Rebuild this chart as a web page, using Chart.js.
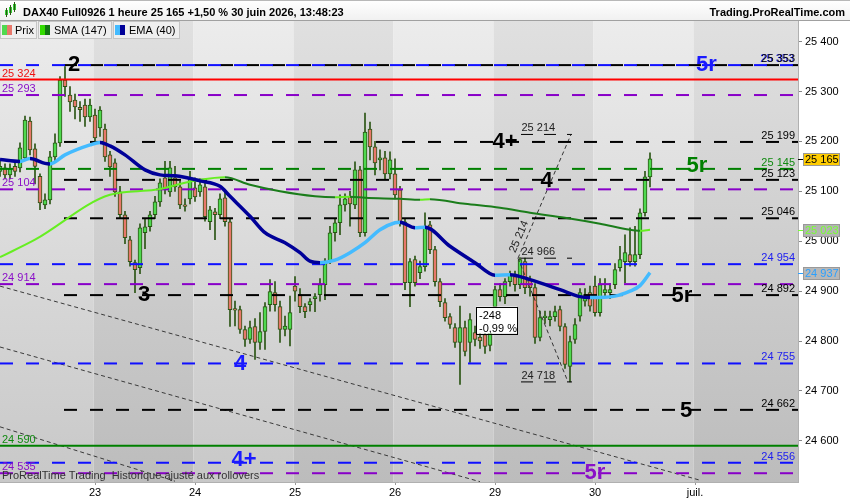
<!DOCTYPE html>
<html>
<head>
<meta charset="utf-8">
<script src="https://cdn.jsdelivr.net/npm/chart.js@4.4.1/dist/chart.umd.min.js"></script>
<style>
  html, body { margin: 0; padding: 0; background: #fff; }
  #wrap { width: 850px; height: 500px; }
</style>
</head>
<body>
<div id="wrap"><canvas id="dax" width="850" height="500"></canvas></div>
<script>
// DAX40 hourly candles (index 0 = first visible bar)
const OPEN = [25140,25147,25133,25150,25147,25167,25241,25185,25130,25073,25083,25169,25197,25323,25293,25283,25267,25273,25249,25253,
  25227,25225,25173,25157,25099,25053,25003,24957,24947,25017,25029,25053,25079,25127,25099,25127,25109,25073,25085,25107,
  25099,25109,25039,25059,25053,25087,25039,24865,24863,24823,24803,24829,24797,24819,24873,24897,24869,24823,24823,24910,
  24893,24869,24873,24885,24893,24913,24960,25017,25037,25073,25089,25073,25143,25017,25225,25189,25163,25167,25135,25135,
  25103,25039,24917,24963,24937,24949,25033,24983,24919,24877,24849,24827,24797,24827,24797,24817,24808,24813,24791,24869,
  24903,24889,24919,24929,24913,24959,24923,24907,24807,24847,24843,24849,24863,24829,24749,24803,24850,24880,24897,24910,
  24857,24897,24897,24913,24947,24959,24973,24959,24973,25057,25129];
const HIGH = [25160,25155,25155,25160,25197,25251,25249,25195,25135,25095,25180,25215,25330,25350,25310,25295,25280,25285,25285,25265,
  25270,25235,25180,25165,25110,25060,25010,24962,25035,25045,25060,25090,25125,25160,25160,25150,25120,25085,25140,25127,
  25125,25120,25070,25066,25095,25100,25045,24880,24870,24830,24840,24845,24857,24877,24923,24919,24880,24850,24890,24929,
  24905,24875,24885,24895,24925,24965,25030,25045,25093,25095,25100,25159,25150,25257,25239,25200,25183,25180,25179,25165,
  25110,25045,24965,24970,24960,25057,25040,24990,24925,24885,24855,24835,24870,24840,24855,24830,24820,24825,24860,24910,
  24915,24925,24940,24940,24967,24966,24930,24915,24860,24860,24860,24870,24870,24835,24810,24845,24905,24905,24910,24930,
  24925,24925,24915,24955,24990,25013,25027,25030,25065,25140,25177];
const LOW = [25130,25125,25125,25130,25139,25163,25173,25115,25063,25065,25075,25160,25190,25290,25260,25245,25240,25230,25240,25195,
  25210,25160,25130,25090,25045,24995,24950,24897,24935,24985,25020,25045,25070,25095,25090,25100,25065,25060,25075,25080,
  25090,25040,25023,25003,25045,25030,24829,24830,24815,24789,24795,24763,24783,24783,24860,24860,24797,24810,24790,24880,
  24857,24847,24860,24859,24880,24883,24955,25000,25013,25060,25030,25065,25009,25010,25163,25133,25143,25125,25125,25085,
  25030,24903,24869,24910,24925,24940,24975,24910,24869,24840,24825,24787,24713,24770,24757,24790,24785,24775,24780,24850,
  24880,24875,24910,24900,24905,24895,24890,24795,24800,24835,24830,24840,24820,24745,24718,24795,24840,24870,24860,24850,
  24850,24890,24885,24905,24940,24917,24950,24950,24965,25050,25109];
const CLOSE = [25150,25133,25145,25140,25187,25243,25183,25150,25077,25083,25169,25197,25323,25310,25279,25269,25265,25249,25273,25207,
  25263,25169,25149,25099,25053,25007,24959,24943,25027,25029,25053,25079,25117,25107,25147,25109,25073,25070,25127,25089,
  25113,25049,25063,25053,25085,25039,24863,24862,24823,24803,24827,24797,24819,24869,24899,24873,24823,24830,24857,24900,
  24869,24859,24879,24889,24913,24960,25017,25037,25073,25085,25075,25143,25017,25219,25189,25157,25167,25135,25163,25093,
  25039,24917,24959,24917,24949,25029,24983,24919,24879,24847,24833,24797,24827,24779,24843,24803,24800,24789,24829,24903,
  24889,24919,24933,24913,24963,24907,24907,24807,24847,24850,24849,24859,24829,24753,24799,24833,24897,24893,24870,24857,
  24913,24903,24903,24943,24963,24977,24959,24973,25057,25129,25165];

// SMA (147) and EMA (40), sampled at the bars where they were read
const SMA_IDX = [0, 7, 22, 31, 37, 40, 45, 50, 56, 63, 67, 70, 73, 80, 84, 86, 93, 100, 106, 113, 120, 126, 128, 130];
const SMA_VAL = [24968, 25003, 25093, 25103, 25117, 25123, 25128, 25113, 25100, 25090, 25088, 25089, 25087, 25085, 25083, 25084,
  25075, 25067, 25057, 25047, 25035, 25023, 25021, 25023];
const EMA_IDX = [0, 4, 6, 9, 10, 13, 18, 20, 22, 25, 29, 32, 35, 40, 44, 46, 50, 53, 57, 60, 62, 64, 67, 70, 73, 76, 79, 80,
  83, 85, 90, 95, 99, 102, 106, 112, 116, 118, 123, 126, 128, 130];
const EMA_VAL = [25164, 25160, 25166, 25156, 25155, 25173, 25193, 25198, 25191, 25173, 25143, 25133, 25131, 25121, 25110, 25090,
  25050, 25017, 24997, 24977, 24960, 24957, 24962, 24977, 24997, 25023, 25037, 25038, 25027, 25028, 24990, 24957, 24932, 24933,
  24923, 24903, 24889, 24887, 24890, 24900, 24911, 24937];

// horizontal levels
const LEVEL_PRICE = [25353, 25353, 25324, 25293, 25199, 25145, 25123, 25104, 25046, 24954, 24914, 24892, 24755, 24662, 24590, 24556, 24535];
const LEVEL_KIND = ['blue', 'black', 'red', 'purple', 'black', 'green', 'black', 'purple', 'black', 'blue', 'purple', 'black',
  'blue', 'black', 'greenSolid', 'blue', 'purple'];

// thin dashed channel lines: [start bar, start price, end bar, end price]
const TREND_LINES = [
  [0, 24910, 140, 24521],
  [0, 24788, 96, 24518],
  [0, 24628, 35, 24519]
];

// measurement object: start point, projected top, low
const MEASURE_IDX = [103.6, 114.2, 113.6];
const MEASURE_VAL = [24966, 25214, 24718];

// Elliott wave counts
const WAVE_TEXT = ['2', '3', '4', '4+', '4+', '4', '5r', '5r', '5r', '5', '5r'];
const WAVE_IDX = [14.8, 28.8, 48, 48.8, 101, 109.3, 139.4, 136.4, 141.3, 137.2, 119];
const WAVE_VAL = [25356, 24894, 24756, 24563, 25200, 25123, 25153, 24892, 25356, 24662, 24538];
const WAVE_KIND = ['black', 'black', 'blue', 'blue', 'black', 'black', 'green', 'black', 'blue', 'black', 'purple'];

const DAY_START = [19, 39, 59, 79, 99, 119, 139];
const DAY_LABELS = ['23', '24', '25', '26', '29', '30', 'juil.'];
const Y_TICKS = [24600, 24700, 24800, 24900, 25000, 25100, 25200, 25300, 25400];

// axis tags on the right
const TAG_VAL = [25165, 25023, 24937];

// ---- styles ----
const FONT = '"Liberation Sans", Arial, sans-serif';
const UP = '#4fd94f', DOWN = '#e8786b', WICK = '#2b5514';
const X_MAX = 159.6, Y_MIN = 24517.4, Y_MAX = 25443.4;

const KIND = {
  black:      { line: '#000000', text: '#000000', dash: [13, 13], from: 12.8, side: 'right' },
  blue:       { line: '#1010ff', text: '#2020f0', dash: [13, 13], from: 0, side: 'right' },
  purple:     { line: '#8800c8', text: '#8a10c8', dash: [13, 13], from: 0, side: 'left' },
  red:        { line: '#ff0000', text: '#ee1010', dash: [], from: 0, side: 'left' },
  green:      { line: '#008000', text: '#108a10', dash: [13, 13], from: 0, side: 'right' },
  greenSolid: { line: '#008000', text: '#108a10', dash: [], from: 0, side: 'left' }
};
const WAVE_COLOR = { black: '#000000', blue: '#1a1aff', green: '#008000', purple: '#8a10c8' };

const fmt = v => String(Math.round(v)).replace(/\B(?=(\d{3})+(?!\d))/g, ' ');

const idx = OPEN.map((_, i) => i);

const datasets = [];

// wicks then bodies
datasets.push({
  type: 'bar', order: 30, grouped: false, barThickness: 1,
  data: idx.map(i => ({ x: i, y: [LOW[i], HIGH[i]] })),
  backgroundColor: WICK
});
datasets.push({
  type: 'bar', order: 29, grouped: false, barThickness: 4,
  data: idx.map(i => {
    let a = Math.min(OPEN[i], CLOSE[i]), b = Math.max(OPEN[i], CLOSE[i]);
    if (b - a < 3) { a -= 1.5; b += 1.5; }
    return { x: i, y: [a, b] };
  }),
  backgroundColor: idx.map(i => CLOSE[i] >= OPEN[i] ? UP : DOWN),
  borderColor: WICK, borderWidth: 1, borderSkipped: false
});

// levels
LEVEL_PRICE.forEach((p, k) => {
  const st = KIND[LEVEL_KIND[k]];
  datasets.push({
    type: 'line', order: 10,
    data: [{ x: st.from, y: p }, { x: X_MAX, y: p }],
    borderColor: st.line, borderWidth: 2, borderDash: st.dash,
    pointRadius: 0, fill: false
  });
});

// channel lines
TREND_LINES.forEach(t => {
  datasets.push({
    type: 'line', order: 12,
    data: [{ x: t[0], y: t[1] }, { x: t[2], y: t[3] }],
    borderColor: '#3a3a3a', borderWidth: 1, borderDash: [4, 3],
    pointRadius: 0, fill: false
  });
});

// measurement lines
datasets.push({
  type: 'line', order: 11,
  data: [{ x: MEASURE_IDX[0], y: MEASURE_VAL[0] }, { x: MEASURE_IDX[1], y: MEASURE_VAL[1] }],
  borderColor: '#333', borderWidth: 1, borderDash: [4, 3], pointRadius: 0
});
datasets.push({
  type: 'line', order: 11,
  data: [{ x: MEASURE_IDX[0], y: MEASURE_VAL[0] }, { x: MEASURE_IDX[2], y: MEASURE_VAL[2] }],
  borderColor: '#333', borderWidth: 1, borderDash: [4, 3], pointRadius: 0
});
MEASURE_VAL.forEach(v => {
  datasets.push({
    type: 'line', order: 11,
    data: [{ x: 104.2, y: v }, { x: 114.4, y: v }],
    borderColor: '#000', borderWidth: 1, borderDash: [12, 11], pointRadius: 0
  });
});

// moving averages (light colour while rising, dark while falling)
datasets.push({
  type: 'line', order: 2,
  data: SMA_IDX.map((x, i) => ({ x: x, y: SMA_VAL[i] })),
  borderWidth: 2, pointRadius: 0, cubicInterpolationMode: 'monotone',
  borderColor: '#1b7d1b',
  segment: { borderColor: c => c.p1.parsed.y >= c.p0.parsed.y ? '#66ee22' : '#1b7d1b' }
});
datasets.push({
  type: 'line', order: 1,
  data: EMA_IDX.map((x, i) => ({ x: x, y: EMA_VAL[i] })),
  borderWidth: 3.5, pointRadius: 0, cubicInterpolationMode: 'monotone',
  borderColor: '#000099',
  segment: { borderColor: c => c.p1.parsed.y >= c.p0.parsed.y ? '#44bbff' : '#000099' }
});

// background, header, labels
const decor = {
  id: 'decor',
  beforeDraw(chart) {
    const { ctx, chartArea: a } = chart;
    const xs = chart.scales.x;
    ctx.save();
    ctx.fillStyle = '#ffffff';
    ctx.fillRect(0, 0, chart.width, chart.height);
    const edges = [a.left].concat(DAY_START.map(d => xs.getPixelForValue(d - 0.3)), [a.right]);
    for (let k = 0; k < edges.length - 1; k++) {
      const g = ctx.createLinearGradient(0, a.top, 0, a.bottom);
      if (k % 2 === 0) { g.addColorStop(0, '#ececec'); g.addColorStop(1, '#c8c8c8'); }
      else { g.addColorStop(0, '#e0e0e0'); g.addColorStop(1, '#bcbcbc'); }
      ctx.fillStyle = g;
      const r = Math.min(edges[k + 1], a.right);
      ctx.fillRect(edges[k], a.top, r - edges[k], a.bottom - a.top);
    }
    ctx.restore();
  },
  afterDraw(chart) {
    const { ctx, chartArea: a } = chart;
    const xs = chart.scales.x, ys = chart.scales.y;
    const px = v => xs.getPixelForValue(v), py = v => ys.getPixelForValue(v);
    ctx.save();

    // header strip
    const hg = ctx.createLinearGradient(0, 0, 0, 20);
    hg.addColorStop(0, '#ffffff'); hg.addColorStop(1, '#f1f1f1');
    ctx.fillStyle = hg; ctx.fillRect(0, 0, 850, 20);
    ctx.fillStyle = '#b8b8b8'; ctx.fillRect(0, 0, 850, 1);
    ctx.fillStyle = '#a0a0a0'; ctx.fillRect(0, 20, 850, 1);
    // little candle icon
    ctx.fillStyle = '#3c3'; ctx.strokeStyle = '#2b5514'; ctx.lineWidth = 1;
    [[5, 10, 5], [9, 7, 6], [13, 4, 6]].forEach(c => {
      ctx.fillRect(c[0], c[1], 3, c[2]);
      ctx.beginPath(); ctx.moveTo(c[0] + 1.5, c[1] - 2); ctx.lineTo(c[0] + 1.5, c[1] + c[2] + 2); ctx.stroke();
    });
    ctx.fillStyle = '#000';
    ctx.font = 'bold 11px ' + FONT;
    ctx.textBaseline = 'alphabetic';
    ctx.textAlign = 'left';
    ctx.fillText('DAX40 Full0926 1 heure 25 165 +1,50 % 30 juin 2026, 13:48:23', 23, 16);
    ctx.textAlign = 'right';
    ctx.fillText('Trading.ProRealTime.com', 845, 16);

    // legend buttons
    const btns = [[0, 37, 'Prix', UP, DOWN, 15], [38, 74, 'SMA (147)', '#33dd00', '#117711', 54], [113, 67, 'EMA (40)', '#44bbff', '#000099', 129]];
    ctx.font = '11px ' + FONT; ctx.textAlign = 'left';
    btns.forEach(b => {
      ctx.fillStyle = '#efefef'; ctx.fillRect(b[0], 21, b[1], 18);
      ctx.strokeStyle = '#c4c4c4'; ctx.strokeRect(b[0] + 0.5, 21.5, b[1] - 1, 17);
      ctx.fillStyle = b[3]; ctx.fillRect(b[0] + 2, 25, 5, 10);
      ctx.fillStyle = b[4]; ctx.fillRect(b[0] + 7, 25, 5, 10);
      ctx.fillStyle = '#000'; ctx.fillText(b[2], b[5], 34);
    });

    // level labels
    ctx.font = '11px ' + FONT;
    LEVEL_PRICE.forEach((p, k) => {
      const st = KIND[LEVEL_KIND[k]];
      const y = py(p) - 3;
      ctx.fillStyle = st.text;
      if (st.side === 'right') {
        ctx.textAlign = 'right';
        ctx.fillText(fmt(p), LEVEL_KIND[k] === 'blue' && p === 25353 ? 794 : 795, y);
      } else {
        ctx.textAlign = 'left';
        ctx.fillText(fmt(p), 2, y);
      }
    });

    // wave counts
    ctx.font = 'bold 22px ' + FONT;
    ctx.textAlign = 'center'; ctx.textBaseline = 'middle';
    WAVE_TEXT.forEach((t, k) => {
      ctx.fillStyle = WAVE_COLOR[WAVE_KIND[k]];
      ctx.fillText(t, px(WAVE_IDX[k]), py(WAVE_VAL[k]) + 1);
    });

    // measurement texts
    ctx.font = '11px ' + FONT; ctx.fillStyle = '#222';
    ctx.textAlign = 'left'; ctx.textBaseline = 'alphabetic';
    MEASURE_VAL.forEach(v => ctx.fillText(fmt(v), px(104.3), py(v) - 3));
    const ax = px(MEASURE_IDX[0]), ay = py(MEASURE_VAL[0]);
    const bx = px(MEASURE_IDX[1]), by = py(MEASURE_VAL[1]);
    const t = 0.15;
    ctx.save();
    ctx.translate(ax + t * (bx - ax), ay + t * (by - ay));
    ctx.rotate(Math.atan2(by - ay, bx - ax));
    ctx.textAlign = 'center'; ctx.textBaseline = 'bottom';
    ctx.fillText(fmt(MEASURE_VAL[1]), 0, -2);
    ctx.restore();
    const diff = MEASURE_VAL[2] - MEASURE_VAL[0];
    const pct = (diff / MEASURE_VAL[0] * 100).toFixed(2).replace('.', ',');
    const bxl = px(95.2), byt = py(24869);
    ctx.fillStyle = '#fff'; ctx.fillRect(bxl, byt, 41, 27);
    ctx.strokeStyle = '#000'; ctx.lineWidth = 1; ctx.strokeRect(Math.round(bxl) + 0.5, Math.round(byt) + 0.5, 41, 27);
    ctx.fillStyle = '#000';
    ctx.fillText(String(diff), bxl + 3, byt + 12);
    ctx.fillText(pct + ' %', bxl + 3, byt + 25);

    // footer note
    ctx.fillStyle = '#333';
    ctx.fillText('ProRealTime Trading  Historique ajusté aux rollovers', 2, a.bottom - 3);

    // right axis tags
    const tags = [['#ffcc00', '#000000', '#000000'], ['#b4b4b4', '#77ff33', '#77ff33'], ['#b8b8b8', '#2aa0ff', '#2aa0ff']];
    TAG_VAL.forEach((v, k) => {
      const y = Math.round(py(v));
      ctx.fillStyle = tags[k][2]; ctx.fillRect(a.right, y, 5, 1);
      ctx.fillStyle = tags[k][0]; ctx.fillRect(803, y - 6, 37, 13);
      ctx.strokeStyle = '#999'; ctx.strokeRect(803.5, y - 5.5, 36, 12);
      ctx.fillStyle = tags[k][1]; ctx.textAlign = 'left'; ctx.textBaseline = 'middle';
      ctx.fillText(fmt(v), 805, y + 1);
    });
    ctx.restore();
  }
};

new Chart(document.getElementById('dax'), {
  type: 'bar',
  data: { datasets: datasets },
  plugins: [decor],
  options: {
    responsive: false,
    animation: false,
    devicePixelRatio: 1,
    events: [],
    layout: { padding: { top: 20, left: 0, right: 0, bottom: 0 } },
    plugins: { legend: { display: false }, tooltip: { enabled: false } },
    scales: {
      x: {
        type: 'linear', min: 0, max: X_MAX, offset: false,
        grid: { display: true, offset: false, drawOnChartArea: false, drawTicks: true, tickLength: 3, color: '#999' },
        border: { color: '#b0b0b0' },
        afterBuildTicks: s => { s.ticks = DAY_START.map(v => ({ value: v })); },
        afterFit: s => { s.height = 18; },
        ticks: {
          autoSkip: false, maxRotation: 0, padding: 1, color: '#000',
          font: { family: FONT, size: 11 },
          callback: v => { const k = DAY_START.indexOf(v); return k >= 0 ? DAY_LABELS[k] : ''; }
        }
      },
      y: {
        type: 'linear', position: 'right', min: Y_MIN, max: Y_MAX,
        grid: { drawOnChartArea: false, drawTicks: true, tickLength: 4, color: '#888' },
        border: { color: '#b0b0b0' },
        afterBuildTicks: s => { s.ticks = Y_TICKS.map(v => ({ value: v })); },
        afterFit: s => { s.width = 52; },
        ticks: { padding: 3, color: '#000', font: { family: FONT, size: 11 }, callback: v => fmt(v) }
      }
    }
  }
});
</script>
</body>
</html>
